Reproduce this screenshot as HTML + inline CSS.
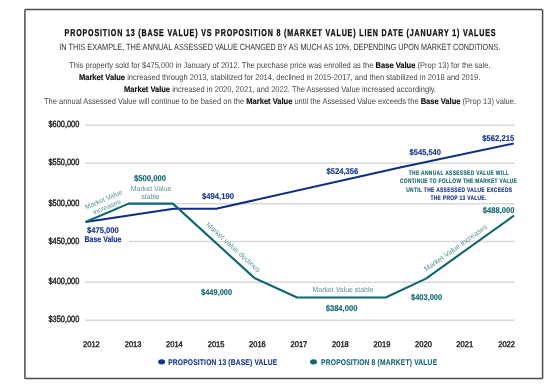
<!DOCTYPE html>
<html><head><meta charset="utf-8">
<style>
html,body{margin:0;padding:0;background:#fff;width:560px;height:389px;overflow:hidden}
svg{display:block;will-change:transform}
text{font-family:"Liberation Sans",sans-serif;text-rendering:geometricPrecision}
</style></head><body>
<svg width="560" height="389" viewBox="0 0 560 389">
<rect x="24.9" y="9.6" width="517.7" height="369.0" rx="0.8" fill="none" stroke="#4d4d4d" stroke-width="1.5"/>
<text font-size="9.9" fill="#0d0d0d" font-weight="bold" stroke="#0d0d0d" stroke-width="0.3" transform="translate(64.6,35.6) scale(0.72,1)" textLength="598.61" lengthAdjust="spacing">PROPOSITION 13 (BASE VALUE) VS PROPOSITION 8 (MARKET VALUE) LIEN DATE (JANUARY 1) VALUES</text>
<text font-size="9" fill="#333" x="59.2" y="49.8" textLength="113.2" lengthAdjust="spacingAndGlyphs">IN THIS EXAMPLE, THE ANNUAL</text>
<text font-size="9" fill="#333" x="174.1" y="49.8" textLength="177.4" lengthAdjust="spacingAndGlyphs">ASSESSED VALUE CHANGED BY AS MUCH AS 10%,</text>
<text font-size="9" fill="#333" x="353.4" y="49.8" textLength="146.8" lengthAdjust="spacingAndGlyphs">DEPENDING UPON MARKET CONDITIONS.</text>
<text font-size="8.4" fill="#474747" x="69.1" y="68.4" textLength="421.4" lengthAdjust="spacingAndGlyphs">This property sold for $475,000 in January of 2012. The purchase price was enrolled as the <tspan font-weight="bold" fill="#0d0d0d" stroke="#0d0d0d" stroke-width="0.15">Base Value</tspan> (Prop 13) for the sale.</text>
<text font-size="8.4" fill="#474747" x="78.9" y="80.3" textLength="401.4" lengthAdjust="spacingAndGlyphs"><tspan font-weight="bold" fill="#0d0d0d" stroke="#0d0d0d" stroke-width="0.15">Market Value</tspan> increased through 2013, stabilized for 2014, declined in 2015-2017, and then stabilized in 2018 and 2019.</text>
<text font-size="8.4" fill="#474747" x="124.1" y="92.4" textLength="312" lengthAdjust="spacingAndGlyphs"><tspan font-weight="bold" fill="#0d0d0d" stroke="#0d0d0d" stroke-width="0.15">Market Value</tspan> increased in 2020, 2021, and 2022. The Assessed Value increased accordingly.</text>
<text font-size="8.4" fill="#474747" x="43.9" y="104.2" textLength="472.2" lengthAdjust="spacingAndGlyphs">The annual Assessed Value will continue to be based on the <tspan font-weight="bold" fill="#0d0d0d" stroke="#0d0d0d" stroke-width="0.15">Market Value</tspan> until the Assessed Value exceeds the <tspan font-weight="bold" fill="#0d0d0d" stroke="#0d0d0d" stroke-width="0.15">Base Value</tspan> (Prop 13) value.</text>
<g stroke="#d8d8d8" stroke-width="1.5">
<line x1="85" y1="125.3" x2="514.6" y2="125.3"/>
<line x1="85" y1="163.3" x2="514.6" y2="163.3"/>
<line x1="129" y1="203.7" x2="514.6" y2="203.7"/>
<line x1="129" y1="241.6" x2="514.6" y2="241.6"/>
<line x1="85" y1="282.3" x2="514.6" y2="282.3"/>
<line x1="85" y1="320.2" x2="514.6" y2="320.2"/>
</g>
<text font-size="9" fill="#1a1a1a" text-anchor="end" stroke="#1a1a1a" stroke-width="0.4" x="79.3" y="127.4" textLength="30.8" lengthAdjust="spacingAndGlyphs">$600,000</text>
<text font-size="9" fill="#1a1a1a" text-anchor="end" stroke="#1a1a1a" stroke-width="0.4" x="79.3" y="165.4" textLength="30.8" lengthAdjust="spacingAndGlyphs">$550,000</text>
<text font-size="9" fill="#1a1a1a" text-anchor="end" stroke="#1a1a1a" stroke-width="0.4" x="79.3" y="205.8" textLength="30.8" lengthAdjust="spacingAndGlyphs">$500,000</text>
<text font-size="9" fill="#1a1a1a" text-anchor="end" stroke="#1a1a1a" stroke-width="0.4" x="79.3" y="243.7" textLength="30.8" lengthAdjust="spacingAndGlyphs">$450,000</text>
<text font-size="9" fill="#1a1a1a" text-anchor="end" stroke="#1a1a1a" stroke-width="0.4" x="79.3" y="284.4" textLength="30.8" lengthAdjust="spacingAndGlyphs">$400,000</text>
<text font-size="9" fill="#1a1a1a" text-anchor="end" stroke="#1a1a1a" stroke-width="0.4" x="79.3" y="322.3" textLength="30.8" lengthAdjust="spacingAndGlyphs">$350,000</text>
<text font-size="8.2" fill="#1a1a1a" text-anchor="middle" stroke="#1a1a1a" stroke-width="0.4" x="91.4" y="347.3" textLength="16.8" lengthAdjust="spacingAndGlyphs">2012</text>
<text font-size="8.2" fill="#1a1a1a" text-anchor="middle" stroke="#1a1a1a" stroke-width="0.4" x="133.1" y="347.3" textLength="16.8" lengthAdjust="spacingAndGlyphs">2013</text>
<text font-size="8.2" fill="#1a1a1a" text-anchor="middle" stroke="#1a1a1a" stroke-width="0.4" x="174.4" y="347.3" textLength="16.8" lengthAdjust="spacingAndGlyphs">2014</text>
<text font-size="8.2" fill="#1a1a1a" text-anchor="middle" stroke="#1a1a1a" stroke-width="0.4" x="216.1" y="347.3" textLength="16.8" lengthAdjust="spacingAndGlyphs">2015</text>
<text font-size="8.2" fill="#1a1a1a" text-anchor="middle" stroke="#1a1a1a" stroke-width="0.4" x="257.4" y="347.3" textLength="16.8" lengthAdjust="spacingAndGlyphs">2016</text>
<text font-size="8.2" fill="#1a1a1a" text-anchor="middle" stroke="#1a1a1a" stroke-width="0.4" x="298.9" y="347.3" textLength="16.8" lengthAdjust="spacingAndGlyphs">2017</text>
<text font-size="8.2" fill="#1a1a1a" text-anchor="middle" stroke="#1a1a1a" stroke-width="0.4" x="340.4" y="347.3" textLength="16.8" lengthAdjust="spacingAndGlyphs">2018</text>
<text font-size="8.2" fill="#1a1a1a" text-anchor="middle" stroke="#1a1a1a" stroke-width="0.4" x="382" y="347.3" textLength="16.8" lengthAdjust="spacingAndGlyphs">2019</text>
<text font-size="8.2" fill="#1a1a1a" text-anchor="middle" stroke="#1a1a1a" stroke-width="0.4" x="423.5" y="347.3" textLength="16.8" lengthAdjust="spacingAndGlyphs">2020</text>
<text font-size="8.2" fill="#1a1a1a" text-anchor="middle" stroke="#1a1a1a" stroke-width="0.4" x="464.7" y="347.3" textLength="16.8" lengthAdjust="spacingAndGlyphs">2021</text>
<text font-size="8.2" fill="#1a1a1a" text-anchor="middle" stroke="#1a1a1a" stroke-width="0.4" x="506.6" y="347.3" textLength="16.8" lengthAdjust="spacingAndGlyphs">2022</text>
<polyline fill="none" stroke="#0f2d87" stroke-width="2.1" stroke-linejoin="round" points="85.5,222 173.6,208.7 217.1,208.6 400,167.4 513.7,143.5"/>
<polyline fill="none" stroke="#0e6670" stroke-width="2.1" stroke-linejoin="round" points="85.5,222 128.6,203.6 172.9,203.6 254.3,277.9 297.1,297.5 385.7,297.5 426,278.6 514.1,215.5"/>
<text font-size="8.4" fill="#17338a" font-weight="bold" stroke="#17338a" stroke-width="0.15" x="87" y="232.7" textLength="31.8" lengthAdjust="spacingAndGlyphs">$475,000</text>
<text font-size="8.4" fill="#17338a" font-weight="bold" stroke="#17338a" stroke-width="0.15" x="84.5" y="242.1" textLength="37" lengthAdjust="spacingAndGlyphs">Base Value</text>
<text font-size="8.4" fill="#146670" font-weight="bold" stroke="#146670" stroke-width="0.15" x="133.9" y="181.4" textLength="32.2" lengthAdjust="spacingAndGlyphs">$500,000</text>
<text font-size="8.4" fill="#17338a" font-weight="bold" stroke="#17338a" stroke-width="0.15" x="202.1" y="199.2" textLength="31.8" lengthAdjust="spacingAndGlyphs">$494,190</text>
<text font-size="8.4" fill="#17338a" font-weight="bold" stroke="#17338a" stroke-width="0.15" x="326.4" y="173.9" textLength="31.9" lengthAdjust="spacingAndGlyphs">$524,356</text>
<text font-size="8.4" fill="#17338a" font-weight="bold" stroke="#17338a" stroke-width="0.15" x="409.6" y="155" textLength="31.4" lengthAdjust="spacingAndGlyphs">$545,540</text>
<text font-size="8.4" fill="#17338a" font-weight="bold" stroke="#17338a" stroke-width="0.15" x="482.2" y="141" textLength="32" lengthAdjust="spacingAndGlyphs">$562,215</text>
<text font-size="8.4" fill="#146670" font-weight="bold" stroke="#146670" stroke-width="0.15" x="201.1" y="295" textLength="31" lengthAdjust="spacingAndGlyphs">$449,000</text>
<text font-size="8.4" fill="#146670" font-weight="bold" stroke="#146670" stroke-width="0.15" x="325.7" y="310.5" textLength="31.7" lengthAdjust="spacingAndGlyphs">$384,000</text>
<text font-size="8.4" fill="#146670" font-weight="bold" stroke="#146670" stroke-width="0.15" x="411.1" y="300.2" textLength="31" lengthAdjust="spacingAndGlyphs">$403,000</text>
<text font-size="8.4" fill="#146670" font-weight="bold" stroke="#146670" stroke-width="0.15" x="482.8" y="212.7" textLength="31.7" lengthAdjust="spacingAndGlyphs">$488,000</text>
<text font-size="7.3" fill="#5e9297" x="130.8" y="190.8" textLength="40.6" lengthAdjust="spacingAndGlyphs">Market Value</text>
<text font-size="7.3" fill="#5e9297" x="141.5" y="198.8" textLength="17.9" lengthAdjust="spacingAndGlyphs">stable</text>
<text font-size="7.3" fill="#5e9297" x="312.5" y="292" textLength="60.9" lengthAdjust="spacingAndGlyphs">Market Value stable</text>
<g font-size="7.3" fill="#5e9297" text-anchor="middle">
<g transform="translate(104.6,201.6) rotate(-23)" font-size="6.9"><text x="0" y="0">Market Value</text><text x="0" y="8">increases</text></g>
<g transform="translate(233.3,247.1) rotate(42.4)"><text x="0" y="2.5">Market value declines</text></g>
<g transform="translate(455.7,247.8) rotate(-35.6)"><text x="0" y="2.5">Market Value increases</text></g>
</g>
<text font-size="6.6" fill="#146670" font-weight="bold" text-anchor="middle" stroke="#146670" stroke-width="0.15" transform="translate(458.8,174.6) scale(0.74,1)" textLength="135.14" lengthAdjust="spacing">THE ANNUAL ASSESSED VALUE WILL</text>
<text font-size="6.6" fill="#146670" font-weight="bold" text-anchor="middle" stroke="#146670" stroke-width="0.15" transform="translate(458.4,183.2) scale(0.74,1)" textLength="157.84" lengthAdjust="spacing">CONTINUE TO FOLLOW THE MARKET VALUE</text>
<text font-size="6.6" fill="#17338a" font-weight="bold" text-anchor="middle" stroke="#17338a" stroke-width="0.15" transform="translate(459.1,191.8) scale(0.74,1)" textLength="142.97" lengthAdjust="spacing"><tspan fill="#146670" stroke="#146670">UNTIL </tspan>THE ASSESSED VALUE EXCEEDS</text>
<text font-size="6.6" fill="#17338a" font-weight="bold" text-anchor="middle" stroke="#17338a" stroke-width="0.15" transform="translate(458.4,200.2) scale(0.74,1)" textLength="75.41" lengthAdjust="spacing">THE PROP 13 VALUE.</text>
<ellipse cx="161.6" cy="361.8" rx="3.5" ry="2.6" fill="#17338a"/>
<text font-size="8.4" fill="#17338a" font-weight="bold" stroke="#17338a" stroke-width="0.12" transform="translate(168.2,364.6) scale(0.8,1)" textLength="136.37" lengthAdjust="spacing">PROPOSITION 13 (BASE) VALUE</text>
<ellipse cx="313.5" cy="361.8" rx="3.5" ry="2.6" fill="#146670"/>
<text font-size="8.4" fill="#146670" font-weight="bold" stroke="#146670" stroke-width="0.12" transform="translate(321.1,364.6) scale(0.8,1)" textLength="145.00" lengthAdjust="spacing">PROPOSITION 8 (MARKET) VALUE</text>
</svg>
</body></html>
